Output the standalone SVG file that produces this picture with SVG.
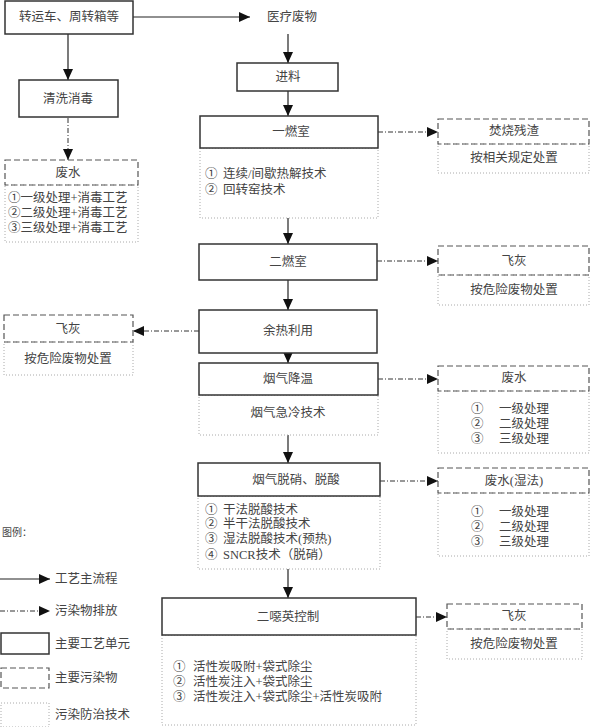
<svg xmlns="http://www.w3.org/2000/svg" width="592" height="727" viewBox="0 0 592 727">
<style>
text{font-family:"Liberation Serif","Noto Sans CJK SC",serif;font-size:12.5px;fill:#444;dominant-baseline:central}
.c{text-anchor:middle}
.solid{fill:#fff;stroke:#333;stroke-width:1.5}
.dash{fill:none;stroke:#555;stroke-width:1.2;stroke-dasharray:6 3}
.dot{fill:none;stroke:#aaa;stroke-width:1;stroke-dasharray:1 2}
.flow{stroke:#222;stroke-width:1.2;fill:none;marker-end:url(#ah)}
.emit{stroke:#333;stroke-width:1;fill:none;stroke-dasharray:5 2 1 2;marker-end:url(#ah)}
.small{font-size:10px}
</style>
<defs>
<marker id="ah" markerUnits="userSpaceOnUse" markerWidth="12" markerHeight="10" refX="11" refY="5" orient="auto">
<path d="M0,0 L11,5 L0,10 z" fill="#111"/>
</marker>
</defs>

<g id="connectors">
<line class="flow" x1="133" y1="17" x2="250" y2="17"/>
<line class="flow" x1="68" y1="34" x2="68" y2="80"/>
<line class="emit" x1="68" y1="118" x2="68" y2="160"/>
<line class="flow" x1="288" y1="34" x2="288" y2="63"/>
<line class="flow" x1="288" y1="91" x2="288" y2="116"/>
<line class="emit" x1="378" y1="132" x2="438" y2="132"/>
<line class="flow" x1="288" y1="218" x2="288" y2="244"/>
<line class="emit" x1="377" y1="261" x2="438" y2="261"/>
<line class="flow" x1="288" y1="280" x2="288" y2="310"/>
<line class="emit" x1="199" y1="331" x2="133" y2="331"/>
<line class="flow" x1="288" y1="353" x2="288" y2="363"/>
<line class="emit" x1="378" y1="379" x2="438" y2="379"/>
<line class="flow" x1="288" y1="435" x2="288" y2="463"/>
<line class="emit" x1="380" y1="481" x2="438" y2="481"/>
<line class="flow" x1="288" y1="569" x2="288" y2="598"/>
<line class="emit" x1="416" y1="617" x2="447" y2="617"/>
</g>

<g id="n-transport">
<rect class="solid" x="5" y="1" width="128" height="33"/>
<text class="c" x="69" y="17">转运车、周转箱等</text>
</g>
<g id="n-medwaste">
<text class="c" x="292" y="17">医疗废物</text>
</g>
<g id="n-feed">
<rect class="solid" x="237" y="63" width="101" height="28"/>
<text class="c" x="288" y="77">进料</text>
</g>
<g id="n-clean">
<rect class="solid" x="19" y="80" width="99" height="37"/>
<text class="c" x="68" y="99">清洗消毒</text>
</g>
<g id="n-ww1">
<rect class="dot" x="5" y="185" width="133" height="57"/>
<rect class="dash" x="5" y="160" width="133" height="25"/>
<text class="c" x="68" y="173">废水</text>
<text x="8" y="198">①一级处理+消毒工艺</text>
<text x="8" y="213">②二级处理+消毒工艺</text>
<text x="8" y="228">③三级处理+消毒工艺</text>
</g>

<g id="n-chamber1">
<rect class="dot" x="200" y="148" width="178" height="70"/>
<rect class="solid" x="200" y="116" width="178" height="32"/>
<text class="c" x="291" y="132">一燃室</text>
<text x="205" y="174">①</text><text x="223" y="174">连续/间歇热解技术</text>
<text x="205" y="190">②</text><text x="223" y="190">回转窑技术</text>
</g>
<g id="n-residue">
<rect class="dot" x="438" y="144" width="151" height="29"/>
<rect class="dash" x="438" y="119" width="151" height="25"/>
<text class="c" x="514" y="131">焚烧残渣</text>
<text class="c" x="514" y="158">按相关规定处置</text>
</g>

<g id="n-chamber2">
<rect class="solid" x="199" y="244" width="178" height="36"/>
<text class="c" x="288" y="262">二燃室</text>
</g>
<g id="n-ash1">
<rect class="dot" x="438" y="275" width="151" height="30"/>
<rect class="dash" x="438" y="246" width="151" height="29"/>
<text class="c" x="514" y="261">飞灰</text>
<text class="c" x="514" y="290">按危险废物处置</text>
</g>

<g id="n-heat">
<rect class="solid" x="199" y="310" width="178" height="43"/>
<text class="c" x="288" y="331">余热利用</text>
</g>
<g id="n-ash2">
<rect class="dot" x="4" y="342" width="129" height="33"/>
<rect class="dash" x="4" y="315" width="129" height="27"/>
<text class="c" x="68" y="329">飞灰</text>
<text class="c" x="68" y="359">按危险废物处置</text>
</g>

<g id="n-cool">
<rect class="dot" x="199" y="395" width="179" height="40"/>
<rect class="solid" x="199" y="363" width="179" height="32"/>
<text class="c" x="288" y="379">烟气降温</text>
<text class="c" x="288" y="413">烟气急冷技术</text>
</g>
<g id="n-ww2">
<rect class="dot" x="438" y="391" width="151" height="62"/>
<rect class="dash" x="438" y="366" width="151" height="25"/>
<text class="c" x="514" y="378">废水</text>
<text x="471" y="409">①</text><text x="499" y="409">一级处理</text>
<text x="471" y="424">②</text><text x="499" y="424">二级处理</text>
<text x="471" y="439">③</text><text x="499" y="439">三级处理</text>
</g>

<g id="n-denox">
<rect class="dot" x="198" y="496" width="182" height="73"/>
<rect class="solid" x="198" y="463" width="182" height="33"/>
<text class="c" x="296" y="480">烟气脱硝、脱酸</text>
<text x="205" y="510">①</text><text x="223" y="510">干法脱酸技术</text>
<text x="205" y="524">②</text><text x="223" y="524">半干法脱酸技术</text>
<text x="205" y="539">③</text><text x="223" y="539">湿法脱酸技术(预热)</text>
<text x="205" y="555">④</text><text x="223" y="555">SNCR技术（脱硝）</text>
</g>
<g id="n-ww3">
<rect class="dot" x="438" y="493" width="151" height="63"/>
<rect class="dash" x="438" y="468" width="151" height="25"/>
<text class="c" x="514" y="481">废水(湿法)</text>
<text x="471" y="512">①</text><text x="499" y="512">一级处理</text>
<text x="471" y="527">②</text><text x="499" y="527">二级处理</text>
<text x="471" y="542">③</text><text x="499" y="542">三级处理</text>
</g>

<g id="n-dioxin">
<rect class="dot" x="162" y="635" width="254" height="90"/>
<rect class="solid" x="162" y="598" width="254" height="37"/>
<text class="c" x="288" y="617">二噁英控制</text>
<text x="173" y="667">①</text><text x="193" y="667">活性炭吸附+袋式除尘</text>
<text x="173" y="682">②</text><text x="193" y="682">活性炭注入+袋式除尘</text>
<text x="173" y="697">③</text><text x="193" y="697">活性炭注入+袋式除尘+活性炭吸附</text>
</g>
<g id="n-ash3">
<rect class="dot" x="447" y="629" width="135" height="30"/>
<rect class="dash" x="447" y="604" width="135" height="25"/>
<text class="c" x="514" y="616">飞灰</text>
<text class="c" x="514" y="644">按危险废物处置</text>
</g>

<g id="legend">
<text class="small" x="2" y="532">图例：</text>
<line class="flow" x1="0" y1="579" x2="50" y2="579"/>
<text x="55" y="579">工艺主流程</text>
<line class="emit" x1="0" y1="611" x2="50" y2="611"/>
<text x="55" y="611">污染物排放</text>
<rect class="solid" x="1" y="633" width="48" height="21"/>
<text x="55" y="644">主要工艺单元</text>
<rect class="dash" x="1" y="668" width="48" height="20"/>
<text x="55" y="678">主要污染物</text>
<rect class="dot" x="1" y="703" width="48" height="24"/>
<text x="55" y="715">污染防治技术</text>
</g>
</svg>
